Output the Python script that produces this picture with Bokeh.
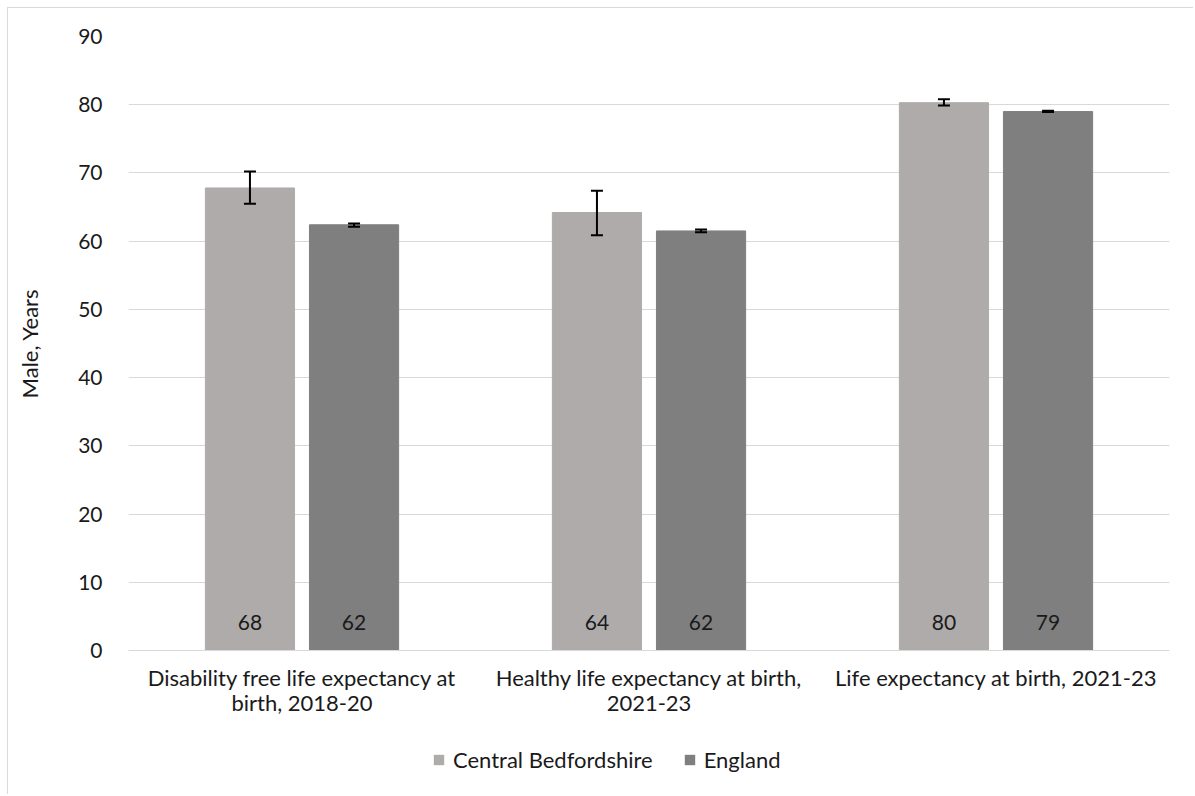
from bokeh.plotting import figure
from bokeh.layouts import column
from bokeh.models import (ColumnDataSource, FactorRange, Whisker, TeeHead, LabelSet,
                          Legend, LegendItem, FixedTicker, Range1d)
from bokeh.core.properties import value
from bokeh.transform import dodge
from bokeh.embed import file_html
from bokeh.resources import INLINE

categories = ["Disability free life expectancy at\nbirth, 2018-20",
              "Healthy life expectancy at birth,\n2021-23",
              "Life expectancy at birth, 2021-23"]
series_names = ["Central Bedfordshire", "England"]
cb_values = [67.8, 64.2, 80.3]
cb_lower = [65.5, 60.85, 79.9]
cb_upper = [70.2, 67.4, 80.8]
eng_values = [62.4, 61.5, 79.0]
eng_lower = [62.1, 61.3, 78.95]
eng_upper = [62.6, 61.7, 79.1]
cb_labels = ["68", "64", "80"]
eng_labels = ["62", "62", "79"]
y_ticks = [0, 10, 20, 30, 40, 50, 60, 70, 80, 90]

FONT = "Lato"
TXT = "#1a1a1a"
CB_COLOR = "#afabab"
ENG_COLOR = "#7f7f7f"
colors = [CB_COLOR, ENG_COLOR]

src_cb = ColumnDataSource(dict(cat=categories, val=cb_values, lo=cb_lower, hi=cb_upper,
                               lab=cb_labels))
src_eng = ColumnDataSource(dict(cat=categories, val=eng_values, lo=eng_lower, hi=eng_upper,
                                lab=eng_labels))

p = figure(x_range=FactorRange(*categories, range_padding=0), y_range=(0, 90),
           width=1186, height=722, output_backend="svg", toolbar_location=None,
           min_border_left=120, min_border_right=25, min_border_top=28, min_border_bottom=80,
           styles={"margin-left": "7px", "margin-top": "7px",
                   "border-left": "1px solid #d9d9d9", "border-top": "1px solid #d9d9d9"})
p.outline_line_color = None

off = 0.15
bw = 0.257
p.vbar(x=dodge("cat", -off, range=p.x_range), top="val", width=bw, source=src_cb,
       fill_color=CB_COLOR, line_color=CB_COLOR)
p.vbar(x=dodge("cat", off, range=p.x_range), top="val", width=bw, source=src_eng,
       fill_color=ENG_COLOR, line_color=ENG_COLOR)

for src, o in ((src_cb, -off), (src_eng, off)):
    w = Whisker(source=src, base=dodge("cat", o, range=p.x_range), upper="hi", lower="lo",
                line_color="black", line_width=2, level="overlay",
                upper_head=TeeHead(size=12, line_color="black", line_width=2),
                lower_head=TeeHead(size=12, line_color="black", line_width=2))
    p.add_layout(w)
    lbl = LabelSet(source=src, x=dodge("cat", o, range=p.x_range), y=0, text="lab",
                   y_offset=28, text_align="center", text_baseline="middle",
                   text_font=value(FONT), text_font_size="21px", text_color=TXT)
    p.add_layout(lbl)

p.yaxis.ticker = FixedTicker(ticks=y_ticks)
p.yaxis.axis_line_color = None
p.yaxis.major_tick_line_color = None
p.yaxis.minor_tick_line_color = None
p.yaxis.major_label_text_font = FONT
p.yaxis.major_label_text_font_size = "21px"
p.yaxis.major_label_text_color = TXT
p.yaxis.major_label_standoff = 20
p.yaxis.axis_label = "Male, Years"
p.yaxis.axis_label_text_font = FONT
p.yaxis.axis_label_text_font_size = "22px"
p.yaxis.axis_label_text_font_style = "normal"
p.yaxis.axis_label_text_color = TXT
p.yaxis.axis_label_standoff = 32

p.xaxis.axis_line_color = "#d9d9d9"
p.xaxis.axis_line_width = 1
p.xaxis.major_tick_line_color = None
p.xaxis.minor_tick_line_color = None
p.xaxis.major_label_text_font = FONT
p.xaxis.major_label_text_font_size = "22px"
p.xaxis.major_label_text_color = TXT
p.xaxis.major_label_text_line_height = 0.95
p.xaxis.major_label_standoff = 7
p.xaxis.major_label_orientation = "horizontal"

p.xgrid.grid_line_color = None
p.ygrid.grid_line_color = "#d9d9d9"
p.ygrid.grid_line_width = 1

# legend strip below the chart
p2 = figure(width=1186, height=65, output_backend="svg", toolbar_location=None,
            x_range=Range1d(0, 1), y_range=Range1d(0, 1),
            x_axis_type=None, y_axis_type=None,
            min_border_left=0, min_border_right=0, min_border_top=0, min_border_bottom=0,
            styles={"margin-left": "7px", "border-left": "1px solid #d9d9d9"})
p2.outline_line_color = None
p2.grid.visible = False
items = []
for name, c in zip(series_names, colors):
    r = p2.vbar(x=[-5], top=[0], width=0.1, fill_color=c, line_color=None)
    items.append(LegendItem(label=name, renderers=[r]))
legend = Legend(items=items, location=(304, 21), orientation="horizontal",
                glyph_width=13, glyph_height=13, label_standoff=8, spacing=30,
                padding=0, margin=0, border_line_color=None, background_fill_alpha=0,
                label_text_font=FONT, label_text_font_size="22px", label_text_color=TXT)
p2.add_layout(legend, "center")

layout = column(p, p2, spacing=0)
open("out.html", "w").write(file_html(layout, INLINE))
